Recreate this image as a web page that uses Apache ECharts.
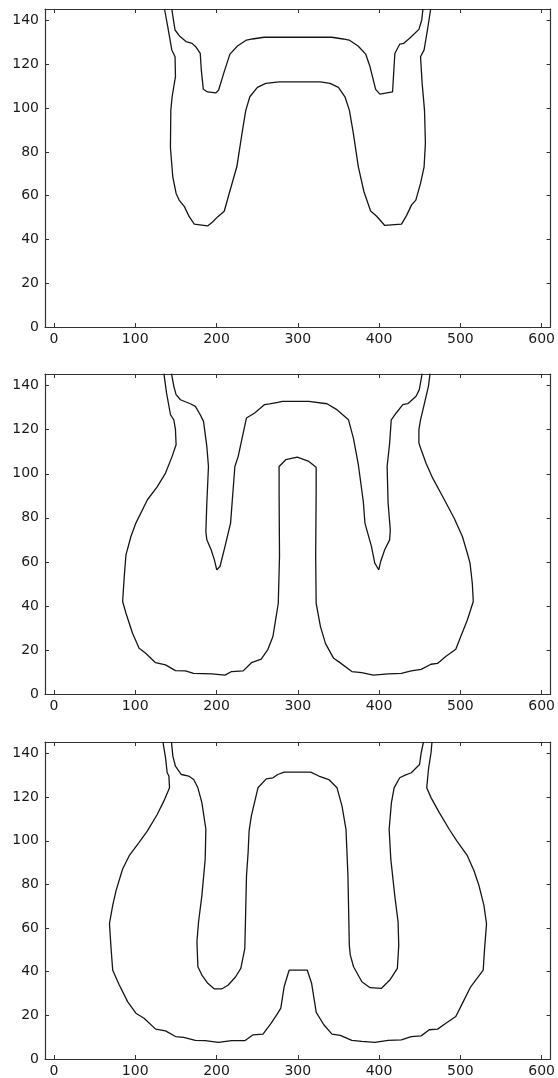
<!DOCTYPE html>
<html>
<head>
<meta charset="utf-8">
<script src="https://cdn.jsdelivr.net/npm/echarts@6/dist/echarts.min.js"></script>
<style>
html,body{margin:0;padding:0;background:#fff;}
#chart{width:558px;height:1078px;}
</style>
</head>
<body>
<div id="chart"></div>
<script>
// Tick labels
const xTicks = [0, 100, 200, 300, 400, 500, 600];
const yTicks = [0, 20, 40, 60, 80, 100, 120, 140];

// Panel 1 contours [x, y]
const panel1Outer = [[136,145.3],[140,137.2],[145,126.6],[149,123.5],[149.5,114.4],[145.4,105.2],[143.8,99],[143.3,82],[146.2,68.6],[150.3,61],[154,58],[160.5,55],[166.6,50.3],[172.7,47],[189,46.2],[195.2,48],[201.3,50.3],[209.5,52.9],[215.6,61],[225,73.2],[232,90],[236,99],[241,105.2],[250.3,109.5],[260.6,111.3],[277,112],[327.5,112],[339.7,111.3],[350,109.5],[358,105.2],[363.5,99],[368.4,88.4],[374.5,73.2],[381.4,61.8],[389.6,53],[397,50.6],[407,46.4],[427.6,47],[433.9,51],[440,55.8],[445.2,58],[451,65.6],[455.4,73.2],[457,84],[455.9,99],[453,111.3],[451,123.5],[455.4,126.6],[459.5,135.7],[463.5,145.3]];
const panel1Inner = [[145,145.3],[147,140.3],[149,135.7],[154.4,133],[162.5,130.4],[170,129.6],[175,127.8],[180,125],[181.3,117.4],[183.8,108.6],[189,107.4],[199.3,107],[202.6,108.3],[209.5,116.7],[216.5,124.7],[225.8,128.4],[236.9,131.1],[244.2,131.6],[258.5,132.4],[341.8,132.4],[355.8,131.6],[363.1,131.1],[374.2,128.4],[383.5,124.7],[388.8,119],[395.8,108.6],[401,106.4],[416.6,107.4],[419.4,125],[425.5,129.3],[430.4,129.6],[437.6,131.9],[449,136],[452.5,140.3],[454,145.3]];

// Panel 2 contours
const panel2Outer = [[135.3,145.5],[138.5,136.7],[143.4,126.8],[147.5,124.5],[149.5,120],[150.3,113.2],[145.4,107.9],[137.3,100.3],[127.2,94.2],[115,88.2],[100.8,77.6],[94.7,71.5],[88.6,63.2],[86.5,53.3],[84.5,42],[88.6,36.7],[96.7,27.6],[104.8,20.8],[112.9,18.5],[125,14.2],[137.3,13.2],[149.5,10.6],[161.7,10.5],[171.8,9.4],[194.2,9.1],[210.4,8.6],[218.6,10.2],[232.8,10.5],[243,14.2],[255,15.8],[263.3,20.3],[269.4,26.1],[273.4,35.2],[276,41.2],[277.5,62.4],[277,92],[277,103.3],[285.2,106.4],[299.4,107.6],[313.6,105.6],[322.6,103],[322.6,92],[322,62.4],[322.6,41.2],[327.9,30.6],[334,23],[344.1,16.2],[350.2,14.7],[366.5,10.2],[378.6,9.7],[392.9,8.6],[411.1,9.1],[427.4,9.4],[439.6,10.5],[451.8,11.2],[463.8,13.5],[471.9,13.9],[482,17],[494.4,20.3],[500.5,26.1],[508.6,33.6],[515.9,42],[514.7,50.3],[511.9,59.4],[508.6,63.9],[502.5,71.5],[492.4,79.8],[478.2,89.7],[466,98],[457.8,104.8],[451.8,110.9],[449,113.9],[449,120],[451,124.5],[455.9,132.1],[460.7,139.7],[462.7,145.5]];
const panel2Inner = [[144.6,145.5],[147.5,139.7],[150.3,135.9],[155.6,133.6],[167.8,131.8],[174,130.6],[180,126.8],[184,123.8],[188.1,112.4],[190.1,103.3],[188.1,86.7],[186.9,73.8],[188.1,70],[193.4,65.5],[197.4,60.9],[200.3,56.4],[204.3,57.9],[210.4,66.9],[217.3,77.6],[222.6,103.3],[226.7,107.9],[236.8,125.3],[247,127.6],[259.2,131.4],[265.3,131.7],[275.4,132.4],[281.1,132.9],[313.6,132.9],[335.9,131.8],[348.1,129.1],[362.4,124.5],[368.4,116.2],[374.5,104.1],[380.6,87.4],[382.6,77.6],[390.6,67],[394.7,59.4],[399.6,56.4],[402,60.2],[406.9,65.5],[413,70],[413.8,74.5],[411.1,86.7],[409.9,103.3],[413,113.9],[415,124.5],[421.1,127.6],[429.2,131.4],[435.3,131.8],[445.5,135.2],[449.5,138.2],[453,145.5]];

// Panel 3 contours
const panel3Outer = [[134.1,145.3],[137.3,138],[139.3,131.2],[141.4,129.7],[142.2,124.3],[135.3,118.3],[127.2,112.2],[115,104.6],[104.8,99.3],[92.6,93.2],[84.5,87.1],[76.4,77.2],[72.3,70.4],[68.3,62],[70.3,50.6],[72.3,40.7],[80.4,33.9],[90.6,26.3],[100.8,21],[110.9,18.7],[125.1,13.7],[137.3,12.9],[149.5,10.3],[159.7,9.9],[173.9,8.5],[186.1,8.4],[202.3,7.6],[218.6,8.4],[234.8,8.4],[245,11.1],[257.2,11.4],[267.3,16.4],[275.4,21],[279.1,23.3],[283.2,33.1],[289.3,40.7],[311.7,40.7],[317,34.7],[322.7,21.4],[332,15.7],[342.1,11.4],[352.3,10.8],[366.5,8.5],[378.6,8.1],[394.9,7.6],[411.1,8.5],[427.4,8.8],[439.6,10.3],[451.8,10.6],[461.8,13.4],[472,13.7],[482.2,16.4],[494.4,19.5],[502.5,25.5],[512.7,33.1],[528.1,40.7],[529.8,50.6],[532.2,62],[529,70.4],[522.9,79.5],[516.8,86.3],[508.6,93.2],[495.6,100],[486.3,105.3],[474.1,112.9],[463.9,119.8],[458.6,124.3],[459.8,128.9],[461,133.5],[463.9,140.3],[465.1,145.3]];
const panel3Inner = [[144.6,145.3],[146.3,138.8],[149.5,134.2],[156.8,130.4],[165.8,129.7],[171.9,128.1],[177.1,124.3],[182,117.5],[186.9,105.3],[186.1,91.7],[182,74.9],[177.9,62.8],[175.9,53.7],[177.1,42.3],[182,38.5],[189.3,34.7],[197.4,32.1],[206.4,32.1],[214.5,33.9],[223.5,37.7],[229.9,41.5],[234.8,50.6],[235.6,62.8],[236.9,84.1],[238.9,94.7],[240.1,104.6],[242.9,111.4],[251,124.3],[261.2,128.4],[269.4,128.9],[275.4,130.4],[283.2,131.5],[315.8,131.5],[325.9,129.7],[338.1,128.1],[348.3,124.3],[354.4,115.9],[359.3,105.3],[361.7,84.1],[363.4,52.1],[364.6,47.6],[368.6,42.3],[378.8,35.4],[389,32.7],[403,32.4],[413.2,36.2],[422.5,41.5],[424.2,52.1],[423.4,62.8],[419.3,74.9],[414.4,91.7],[412.4,105.3],[415.2,117.5],[418.5,124.3],[425.4,128.9],[431.4,130],[439.6,131.2],[449.8,135],[451.8,140.3],[454.6,145.3]];

const panels = [[panel1Outer, panel1Inner], [panel2Outer, panel2Inner], [panel3Outer, panel3Inner]];

const X_MIN = -11, X_MAX = 611, Y_MIN = 0, Y_MAX = 145.3;
const axisColor = '#333';
const font = 'DejaVu Sans';

const grids = [
  {left: 45, top: 9, width: 508, height: 318},
  {left: 45, top: 374, width: 508, height: 320},
  {left: 45, top: 742, width: 508, height: 319}
];

const xAxes = [], yAxes = [], series = [];
grids.forEach((g, i) => {
  const common = {
    type: 'value', gridIndex: i, splitLine: {show: false},
    axisLine: {show: true, onZero: false, lineStyle: {color: axisColor, width: 1.2}},
  };
  xAxes.push(Object.assign({}, common, {
    position: 'bottom', min: X_MIN, max: X_MAX,
    axisTick: {show: true, inside: true, length: 4, customValues: xTicks, lineStyle: {color: axisColor}},
    axisLabel: {show: true, customValues: xTicks, margin: 5, fontSize: 14, fontFamily: font, color: '#1a1a1a'}
  }));
  xAxes.push(Object.assign({}, common, {
    position: 'top', min: X_MIN, max: X_MAX,
    axisTick: {show: true, inside: true, length: 4, customValues: xTicks, lineStyle: {color: axisColor}},
    axisLabel: {show: false}
  }));
  yAxes.push(Object.assign({}, common, {
    position: 'left', min: Y_MIN, max: Y_MAX,
    axisTick: {show: true, inside: true, length: 4, customValues: yTicks, lineStyle: {color: axisColor}},
    axisLabel: {show: true, customValues: yTicks, margin: 6, fontSize: 14, fontFamily: font, color: '#1a1a1a'}
  }));
  yAxes.push(Object.assign({}, common, {
    position: 'right', min: Y_MIN, max: Y_MAX,
    axisTick: {show: true, inside: true, length: 4, customValues: yTicks, lineStyle: {color: axisColor}},
    axisLabel: {show: false}
  }));
  panels[i].forEach(curve => {
    series.push({
      type: 'line', xAxisIndex: i * 2, yAxisIndex: i * 2,
      data: curve, showSymbol: false, symbol: 'none', smooth: false,
      clip: true, silent: true,
      lineStyle: {color: '#151515', width: 1.3}
    });
  });
});

const chart = echarts.init(document.getElementById('chart'), null, {renderer: 'canvas'});
chart.setOption({
  animation: false,
  backgroundColor: '#fff',
  grid: grids,
  xAxis: xAxes,
  yAxis: yAxes,
  series: series
});
</script>
</body>
</html>
